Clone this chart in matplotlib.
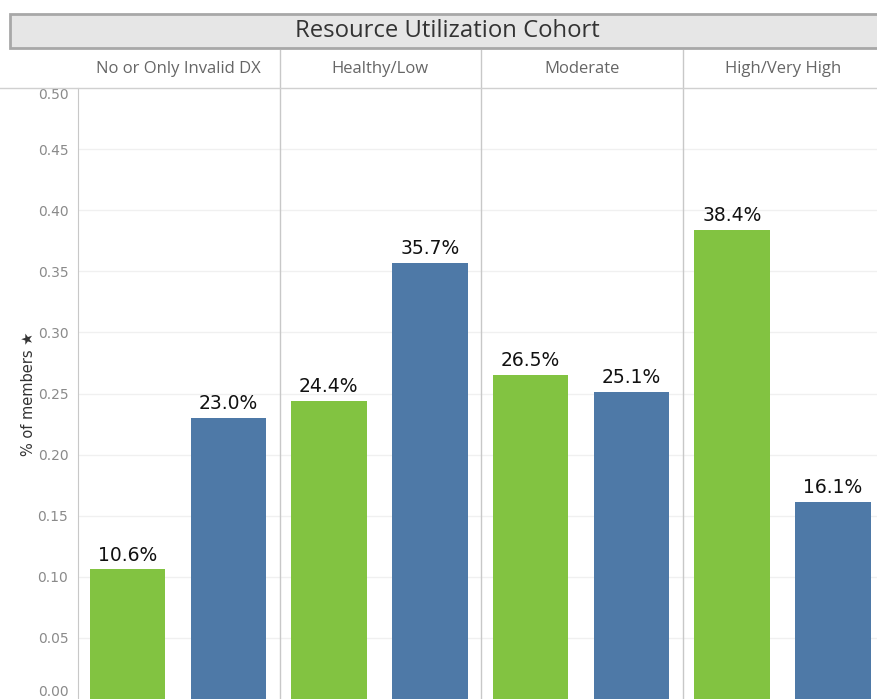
import matplotlib.pyplot as plt
from matplotlib.patches import Rectangle

cohorts = ["No or Only Invalid DX", "Healthy/Low", "Moderate", "High/Very High"]
green_vals = [0.106, 0.244, 0.265, 0.384]
blue_vals = [0.230, 0.357, 0.251, 0.161]
yticks = [0.00, 0.05, 0.10, 0.15, 0.20, 0.25, 0.30, 0.35, 0.40, 0.45, 0.50]

GREEN = "#82c341"
BLUE = "#4e79a7"
W, H = 877, 699

fig = plt.figure(figsize=(W / 100, H / 100), dpi=100)
plt.rcParams['font.family'] = ['Open Sans', 'DejaVu Sans']

# plot area: x 78 -> 877 px, y 88 -> 699 px
ax = fig.add_axes([78 / W, 0, (W - 78) / W, (H - 88) / H])
panel_px = 201.5
xmax = (W - 78) / panel_px

for i in range(len(cohorts)):
    ax.bar(i + 0.245, green_vals[i], width=0.375, color=GREEN, zorder=3)
    ax.bar(i + 0.747, blue_vals[i], width=0.375, color=BLUE, zorder=3)
    ax.text(i + 0.245, green_vals[i] + 0.004, f"{green_vals[i]*100:.1f}%",
            ha="center", va="bottom", fontsize=13.5, color="#111111",
            family=["DejaVu Sans"], zorder=4)
    ax.text(i + 0.747, blue_vals[i] + 0.004, f"{blue_vals[i]*100:.1f}%",
            ha="center", va="bottom", fontsize=13.5, color="#111111",
            family=["DejaVu Sans"], zorder=4)
    if i > 0:
        ax.axvline(i, color="#c8c8c8", lw=1, zorder=2)

ax.set_xlim(0, xmax)
ax.set_ylim(0, 0.5)
ax.set_xticks([])
ax.set_yticks(yticks)
ax.set_yticklabels([f"{t:.2f}" for t in yticks], fontsize=10, color="#8a8a8a",
                   family=["DejaVu Sans"])
labels = ax.get_yticklabels()
labels[0].set_va("bottom")
labels[-1].set_va("top")
ax.tick_params(axis="y", length=0, pad=7)
for y in yticks[1:-1]:
    ax.axhline(y, color="#f0f0f0", lw=1, zorder=1)
for s in ["top", "right", "bottom"]:
    ax.spines[s].set_visible(False)
ax.spines["left"].set_color("#c8c8c8")

ax.set_ylabel("% of members \u2605", fontsize=10.5, color="#333333",
              family=["DejaVu Sans"])
ax.yaxis.set_label_coords(-0.053, 0.5)

# header row with cohort names
hdr = fig.add_axes([78 / W, (H - 88) / H, (W - 78) / W, 38 / H])
hdr.set_xlim(0, xmax)
hdr.set_ylim(0, 1)
hdr.axis("off")
for i, name in enumerate(cohorts):
    hdr.text(i + 0.5, 0.5, name, ha="center", va="center", fontsize=12,
             color="#666666")
    if i > 0:
        hdr.axvline(i, color="#c8c8c8", lw=1)
fig.add_artist(plt.Line2D([0, 1], [(H - 88) / H] * 2, color="#d0d0d0", lw=1,
                          transform=fig.transFigure))

# title bar
fig.add_artist(Rectangle((10 / W, (H - 48) / H), 1.0, 34 / H, transform=fig.transFigure,
                         facecolor="#e6e6e6", edgecolor="#a8a8a8", lw=2))
fig.text(447 / W, (H - 31) / H, "Resource Utilization Cohort",
         ha="center", va="center", fontsize=17.2, color="#333333")

fig.savefig("out.png", dpi=100)
